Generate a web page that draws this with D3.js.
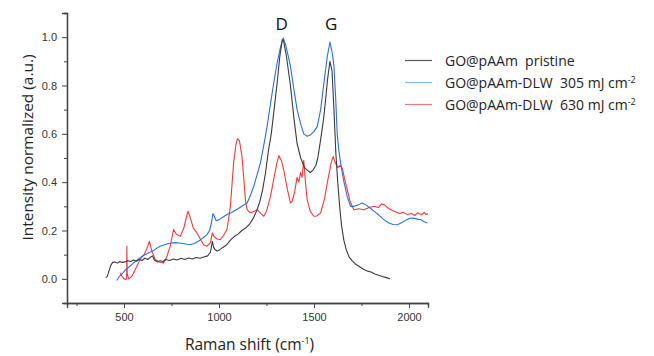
<!DOCTYPE html>
<html><head><meta charset="utf-8">
<script src="https://cdn.jsdelivr.net/npm/d3@7"></script>
<style>
body{margin:0;background:#fff;}
svg{display:block;}
</style></head>
<body>
<svg id="chart" width="654" height="356"></svg>
<script>
// ---------- DATA ----------
const seriesNames = ["GO@pAAm  pristine", "GO@pAAm-DLW  305 mJ cm", "GO@pAAm-DLW  630 mJ cm"];
const seriesSup = ["", "-2", "-2"];
const seriesColors = ["#3a3a3a", "#2a6fdc", "#ef3a3a"];
const legendColors = ["#555555", "#8ab8e8", "#f07878"];

const pristineX = [404,412,420,430,440,452,465,478,490,505,520,535,550,565,580,595,610,625,640,650,660,675,690,705,720,740,760,780,800,820,840,860,880,900,920,940,955,965,972,980,990,1000,1020,1040,1060,1080,1100,1120,1140,1160,1180,1200,1215,1230,1245,1260,1275,1290,1306,1320,1333,1340,1355,1376,1395,1411,1430,1450,1465,1480,1495,1510,1520,1535,1550,1561,1572,1584,1595,1605,1615,1625,1635,1645,1657,1670,1685,1700,1720,1740,1760,1781,1800,1820,1840,1860,1880,1900];
const pristineY = [0.005,0.01,0.03,0.055,0.068,0.07,0.065,0.072,0.068,0.07,0.075,0.072,0.078,0.073,0.08,0.076,0.085,0.08,0.09,0.095,0.078,0.07,0.075,0.072,0.08,0.076,0.082,0.078,0.085,0.08,0.086,0.082,0.088,0.085,0.09,0.095,0.11,0.155,0.13,0.12,0.115,0.118,0.13,0.14,0.16,0.175,0.185,0.2,0.21,0.225,0.25,0.285,0.32,0.37,0.44,0.53,0.6,0.7,0.81,0.92,0.99,0.985,0.92,0.8,0.66,0.56,0.5,0.46,0.45,0.44,0.45,0.47,0.5,0.576,0.66,0.74,0.83,0.9,0.86,0.7,0.52,0.4,0.3,0.22,0.16,0.12,0.09,0.075,0.06,0.05,0.04,0.032,0.028,0.02,0.015,0.01,0.005,0.0];

const dlw305X = [462,475,490,505,520,535,550,570,590,610,630,650,670,690,710,730,750,770,790,810,830,850,866,880,900,920,937,950,960,968,975,985,1000,1020,1040,1060,1077,1100,1120,1148,1165,1183,1200,1218,1235,1253,1270,1288,1305,1324,1338,1350,1362,1376,1393,1411,1430,1446,1464,1480,1500,1517,1535,1552,1570,1584,1597,1605,1614,1622,1631,1640,1655,1675,1693,1710,1730,1754,1775,1800,1816,1840,1860,1880,1895,1915,1939,1960,1985,2009,2030,2050,2062,2080,2097];
const dlw305Y = [-0.007,0.01,0.02,0.035,0.045,0.055,0.066,0.078,0.09,0.1,0.108,0.115,0.125,0.135,0.14,0.145,0.148,0.15,0.148,0.146,0.143,0.142,0.145,0.15,0.16,0.172,0.183,0.2,0.23,0.27,0.26,0.24,0.245,0.255,0.265,0.272,0.28,0.29,0.3,0.314,0.345,0.383,0.43,0.48,0.55,0.63,0.72,0.81,0.89,0.96,0.996,0.97,0.93,0.88,0.79,0.7,0.64,0.6,0.59,0.595,0.61,0.63,0.7,0.81,0.92,0.98,0.93,0.88,0.75,0.6,0.53,0.48,0.41,0.34,0.3,0.3,0.305,0.314,0.305,0.29,0.279,0.265,0.25,0.238,0.231,0.225,0.224,0.232,0.243,0.252,0.25,0.246,0.245,0.236,0.231];

const dlw630X = [480,490,500,508,514,515,517,525,541,560,585,605,620,634,645,664,685,708,725,743,752,761,775,796,815,830,837,850,865,884,905,920,937,955,965,972,990,1007,1025,1042,1060,1077,1090,1098,1108,1121,1132,1140,1148,1165,1185,1201,1220,1236,1250,1271,1290,1305,1315,1328,1341,1360,1376,1385,1398,1411,1420,1429,1437,1446,1455,1464,1480,1499,1515,1535,1555,1570,1590,1601,1612,1626,1637,1649,1662,1675,1690,1710,1735,1763,1790,1816,1840,1855,1869,1895,1922,1950,1970,1992,2015,2030,2045,2065,2080,2089,2100];
const dlw630Y = [0.025,0.01,0.0,-0.003,0.0,0.135,0.02,0.0,0.01,0.04,0.08,0.1,0.125,0.155,0.12,0.08,0.07,0.066,0.09,0.135,0.17,0.204,0.185,0.176,0.21,0.26,0.28,0.25,0.21,0.19,0.16,0.14,0.135,0.15,0.19,0.176,0.165,0.162,0.18,0.204,0.3,0.48,0.56,0.58,0.57,0.507,0.4,0.32,0.286,0.273,0.28,0.286,0.27,0.259,0.28,0.341,0.42,0.48,0.51,0.49,0.45,0.37,0.314,0.32,0.36,0.42,0.4,0.44,0.42,0.49,0.4,0.328,0.28,0.259,0.26,0.273,0.33,0.397,0.48,0.507,0.48,0.46,0.47,0.458,0.41,0.369,0.32,0.286,0.29,0.286,0.295,0.3,0.295,0.31,0.307,0.29,0.28,0.27,0.275,0.266,0.27,0.262,0.273,0.265,0.275,0.266,0.27];

const xTicks = [500,1000,1500,2000];
const xMinorTicks = [250,750,1250,1750];
const yTicks = [0.0,0.2,0.4,0.6,0.8,1.0];
const yMinorTicks = [-0.1,0.1,0.3,0.5,0.7,0.9,1.1];
const peakLabels = ["D","G"];
const peakPositions = [1330,1590];

// ---------- LAYOUT ----------
const svg = d3.select("#chart");
const L = 67, R = 428, T = 13, B = 303;
const x = d3.scaleLinear().domain([200,2100]).range([L,R]);
const y = d3.scaleLinear().domain([-0.1,1.1]).range([B,T]);

const axisColor = "#444";
const tickFont = "'Liberation Sans', Arial, sans-serif";
const labelFont = "'Open Sans', 'Noto Sans', sans-serif";

// X axis
svg.append("g").attr("transform",`translate(0,${B})`)
  .call(d3.axisBottom(x).tickValues(xTicks).tickSize(5).tickPadding(5).tickFormat(d3.format("d")));
svg.append("g").attr("transform",`translate(0,${B})`)
  .call(d3.axisBottom(x).tickValues(xMinorTicks).tickSize(3).tickFormat(""));
// Y axis
svg.append("g").attr("transform",`translate(${L},0)`)
  .call(d3.axisLeft(y).tickValues(yTicks).tickSize(5).tickPadding(5).tickFormat(d3.format(".1f")));
svg.append("g").attr("transform",`translate(${L},0)`)
  .call(d3.axisLeft(y).tickValues(yMinorTicks).tickSize(3).tickFormat(""));

svg.selectAll(".domain").attr("stroke",axisColor).attr("stroke-width",1.3);
svg.selectAll(".tick line").attr("stroke",axisColor).attr("stroke-width",1);
svg.selectAll(".tick text").attr("fill","#333").style("font-family",tickFont).style("font-size","11px");

// Lines
const xs = [pristineX, dlw305X, dlw630X];
const ys = [pristineY, dlw305Y, dlw630Y];
const line = d3.line().x(d=>x(d[0])).y(d=>y(d[1]));
[2,1,0].forEach(i=>{
  const pts = xs[i].map((v,j)=>[v, ys[i][j]]);
  svg.append("path").datum(pts).attr("d",line)
    .attr("fill","none").attr("stroke",seriesColors[i]).attr("stroke-width",1.1)
    .attr("stroke-linejoin","round");
});

// Peak labels
peakLabels.forEach((t,i)=>{
  svg.append("text").attr("x",x(peakPositions[i])).attr("y",30)
    .attr("text-anchor","middle").style("font-family",labelFont).style("font-size","17px")
    .attr("fill","#111").text(t);
});

// Axis titles
const xt = svg.append("text").attr("x",(L+R)/2+2).attr("y",350).attr("text-anchor","middle")
  .style("font-family",labelFont).style("font-size","15.5px").attr("fill","#222");
xt.append("tspan").text("Raman shift (cm");
xt.append("tspan").attr("dy",-6).style("font-size","9px").text("-1");
xt.append("tspan").attr("dy",6).text(")");

svg.append("text").attr("transform",`translate(33,147.5) rotate(-90)`).attr("text-anchor","middle")
  .style("font-family",labelFont).style("font-size","14.5px").attr("fill","#222")
  .attr("textLength",186).attr("lengthAdjust","spacingAndGlyphs")
  .text("Intensity normalized (a.u.)");

// Legend
seriesNames.forEach((n,i)=>{
  const ly = 60.5 + i*22;
  svg.append("line").attr("x1",405).attr("x2",432).attr("y1",ly).attr("y2",ly)
    .attr("stroke",legendColors[i]).attr("stroke-width",1.2);
  const t = svg.append("text").attr("x",445).attr("y",ly+5.5)
    .style("font-family",labelFont).style("font-size","14px").attr("fill","#222")
    .style("white-space","pre").attr("xml:space","preserve");
  t.append("tspan").text(n);
  if(seriesSup[i]){
    t.append("tspan").attr("dy",-5.5).style("font-size","9px").text(seriesSup[i]);
  }
});
</script>
</body></html>
